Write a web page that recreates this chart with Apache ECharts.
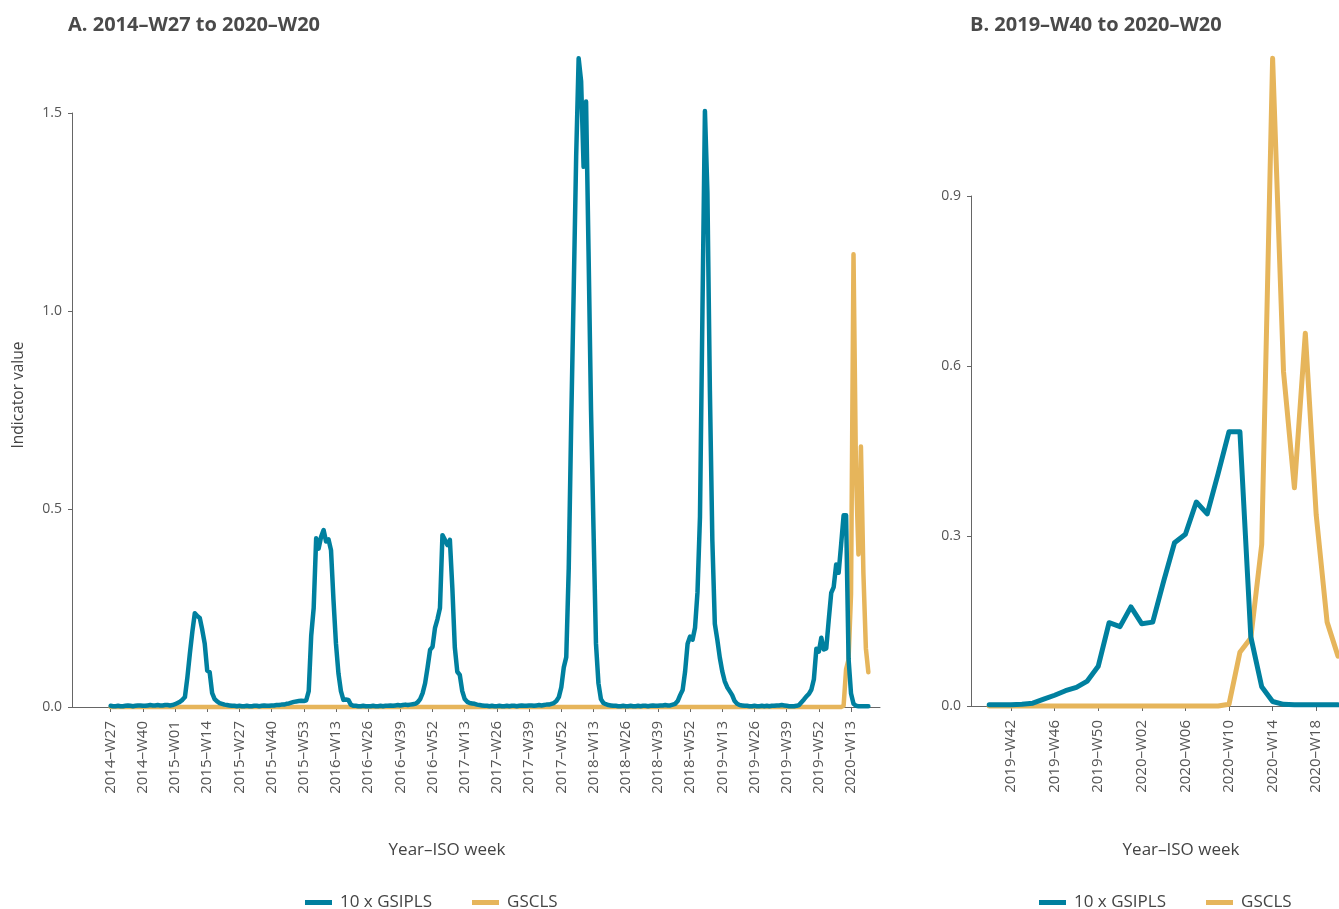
<!DOCTYPE html>
<html><head><meta charset="utf-8">
<script src="https://cdn.jsdelivr.net/npm/echarts@6/dist/echarts.min.js"></script>
<style>html,body{margin:0;padding:0;background:#fff}#c{width:1339px;height:909px}</style>
</head><body><div id="c"></div>
<script>
// ---- categories: ISO weeks from 2014-W27 ----
const START_YEAR = 2014, START_WEEK = 27;
const weeksPerYear = {2014:52, 2015:53, 2016:52, 2017:52, 2018:52, 2019:52, 2020:53};

// ---- series: 10 x GSIPLS (one value per week, 2014-W27 .. 2020-W20) ----
const gsipls10 = [
  // 2014-W27..W52
  0.003,0.002,0.002,0.003,0.002,0.002,0.003,0.004,0.003,0.002,0.003,0.004,0.004,0.003,0.003,0.004,0.005,0.004,0.004,0.005,0.004,0.004,0.005,0.005,0.004,0.005,
  // 2015-W01..W53
  0.007,0.010,0.013,0.018,0.025,0.075,0.135,0.190,0.237,0.230,0.225,0.195,0.160,0.092,0.088,0.035,0.020,0.014,0.010,0.008,0.006,0.005,0.004,0.003,0.003,0.002,0.003,
  0.002,0.002,0.003,0.002,0.002,0.003,0.003,0.002,0.003,0.004,0.003,0.003,0.004,0.004,0.005,0.005,0.006,0.006,0.008,0.009,0.011,0.013,0.014,0.015,0.016,0.015,
  // 2016-W01..W52
  0.017,0.040,0.180,0.250,0.426,0.400,0.430,0.447,0.418,0.423,0.396,0.270,0.160,0.085,0.040,0.018,0.019,0.018,0.006,0.003,0.003,0.002,0.002,0.003,0.002,0.002,
  0.002,0.003,0.002,0.002,0.003,0.002,0.003,0.003,0.004,0.003,0.004,0.005,0.004,0.005,0.006,0.005,0.006,0.007,0.008,0.012,0.020,0.035,0.060,0.100,0.144,0.152,
  // 2017-W01..W52
  0.200,0.222,0.250,0.434,0.422,0.409,0.422,0.300,0.150,0.089,0.081,0.040,0.020,0.013,0.010,0.009,0.008,0.006,0.005,0.004,0.003,0.003,0.002,0.003,0.002,0.002,
  0.003,0.002,0.002,0.003,0.002,0.003,0.003,0.002,0.003,0.004,0.003,0.003,0.004,0.004,0.003,0.004,0.005,0.004,0.005,0.006,0.006,0.008,0.010,0.015,0.025,0.050,
  // 2018-W01..W52
  0.100,0.126,0.350,0.720,1.050,1.390,1.638,1.580,1.364,1.529,1.150,0.750,0.450,0.160,0.060,0.020,0.010,0.007,0.005,0.004,0.003,0.003,0.002,0.002,0.003,0.002,
  0.002,0.003,0.002,0.002,0.003,0.002,0.003,0.003,0.002,0.003,0.004,0.003,0.003,0.004,0.004,0.005,0.004,0.004,0.006,0.008,0.015,0.030,0.043,0.090,0.160,0.178,
  // 2019-W01..W52
  0.170,0.200,0.290,0.480,1.000,1.505,1.300,0.800,0.420,0.210,0.170,0.125,0.090,0.065,0.050,0.040,0.030,0.015,0.008,0.005,0.004,0.003,0.003,0.002,0.002,0.003,
  0.002,0.002,0.003,0.002,0.003,0.002,0.003,0.003,0.004,0.004,0.005,0.004,0.003,0.002,0.002,0.002,0.003,0.005,0.012,0.019,0.027,0.033,0.044,0.070,0.147,0.140,
  // 2020-W01..W20
  0.175,0.145,0.148,0.220,0.288,0.303,0.360,0.339,0.410,0.484,0.484,0.122,0.034,0.008,0.003,0.002,0.002,0.002,0.002,0.002
];

// ---- series: GSCLS (one value per week, 2014-W27 .. 2020-W20) ----
const gscls = [
  // 2014-W27..W52
  0,0,0,0,0,0,0,0,0,0,0,0,0,0,0,0,0,0,0,0,0,0,0,0,0,0,
  // 2015-W01..W53
  0,0,0,0,0,0,0,0,0,0,0,0,0,0,0,0,0,0,0,0,0,0,0,0,0,0,0,
  0,0,0,0,0,0,0,0,0,0,0,0,0,0,0,0,0,0,0,0,0,0,0,0,0,0,
  // 2016-W01..W52
  0,0,0,0,0,0,0,0,0,0,0,0,0,0,0,0,0,0,0,0,0,0,0,0,0,0,
  0,0,0,0,0,0,0,0,0,0,0,0,0,0,0,0,0,0,0,0,0,0,0,0,0,0,
  // 2017-W01..W52
  0,0,0,0,0,0,0,0,0,0,0,0,0,0,0,0,0,0,0,0,0,0,0,0,0,0,
  0,0,0,0,0,0,0,0,0,0,0,0,0,0,0,0,0,0,0,0,0,0,0,0,0,0,
  // 2018-W01..W52
  0,0,0,0,0,0,0,0,0,0,0,0,0,0,0,0,0,0,0,0,0,0,0,0,0,0,
  0,0,0,0,0,0,0,0,0,0,0,0,0,0,0,0,0,0,0,0,0,0,0,0,0,0,
  // 2019-W01..W52
  0,0,0,0,0,0,0,0,0,0,0,0,0,0,0,0,0,0,0,0,0,0,0,0,0,0,
  0,0,0,0,0,0,0,0,0,0,0,0,0,0,0,0,0,0,0,0,0,0,0,0,0,0,
  // 2020-W01..W20
  0,0,0,0,0,0,0,0,0,0.003,0.095,0.120,0.285,1.143,0.590,0.385,0.658,0.337,0.148,0.088
];

// ---- tick labels ----
const tickLabelsA = ['2014–W27','2014–W40','2015–W01','2015–W14','2015–W27','2015–W40','2015–W53',
  '2016–W13','2016–W26','2016–W39','2016–W52','2017–W13','2017–W26','2017–W39','2017–W52',
  '2018–W13','2018–W26','2018–W39','2018–W52','2019–W13','2019–W26','2019–W39','2019–W52','2020–W13'];
const tickLabelsB = ['2019–W42','2019–W46','2019–W50','2020–W02','2020–W06','2020–W10','2020–W14','2020–W18'];
const yTicksA = [0, 0.5, 1.0, 1.5];
const yTicksB = [0, 0.3, 0.6, 0.9];
const panelBStart = '2019–W40';

const seriesNames = ['10 x GSIPLS', 'GSCLS'];
const titleA = 'A. 2014–W27 to 2020–W20';
const titleB = 'B. 2019–W40 to 2020–W20';
const xTitle = 'Year–ISO week';
const yTitle = 'Indicator value';

// ---- build ----
function buildWeeks(n) {
  const out = []; let y = START_YEAR, w = START_WEEK;
  for (let k = 0; k < n; k++) {
    out.push(y + '–W' + String(w).padStart(2, '0'));
    w++; if (w > weeksPerYear[y]) { y++; w = 1; }
  }
  return out;
}
const weeksA = buildWeeks(gsipls10.length);
const bStart = weeksA.indexOf(panelBStart);
const weeksB = weeksA.slice(bStart);
const tickIdxA = tickLabelsA.map(l => weeksA.indexOf(l));
const tickIdxB = tickLabelsB.map(l => weeksB.indexOf(l));

const BLUE = '#00809f', YELLOW = '#e6b55b';
const TXT = '#555555';
const FONT = '"Open Sans", "DejaVu Sans", sans-serif';

function xAxisCfg(grid, min, max, ticks, cats) {
  return {
    type: 'value', gridIndex: grid, min: min, max: max,
    axisLine: { show: true, onZero: false, lineStyle: { color: '#666', width: 1 } },
    axisTick: { show: true, customValues: ticks, length: 5, lineStyle: { color: '#666' } },
    axisLabel: { customValues: ticks, rotate: 90, margin: 14, fontSize: 15, color: TXT, fontFamily: FONT,
      formatter: v => cats[Math.round(v)] || '' },
    splitLine: { show: false }
  };
}
function yAxisCfg(grid, ticks) {
  return {
    type: 'value', gridIndex: grid, min: ticks[0], max: ticks[ticks.length - 1],
    interval: ticks[1] - ticks[0],
    axisLine: { show: true, onZero: false, lineStyle: { color: '#666', width: 1 } },
    axisTick: { show: true, length: 4, lineStyle: { color: '#666' } },
    axisLabel: { margin: 10, fontSize: 14, color: TXT, fontFamily: FONT, formatter: v => v.toFixed(1) },
    splitLine: { show: false }
  };
}
function lineSeries(name, data, xi, color, z, width) {
  return {
    name: name, type: 'line', xAxisIndex: xi, yAxisIndex: xi,
    data: data.map((v, i) => [i, v]),
    showSymbol: false, symbol: 'none', clip: false, z: z,
    lineStyle: { color: color, width: width, cap: 'round', join: 'round' },
    itemStyle: { color: color }, animation: false
  };
}
function legendCfg(left) {
  return {
    left: left, top: 889, icon: 'rect', itemWidth: 27, itemHeight: 5, itemGap: 40,
    data: seriesNames,
    textStyle: { fontSize: 17, color: '#444', fontFamily: FONT, padding: [0, 0, 0, 3] }
  };
}

const chart = echarts.init(document.getElementById('c'), null, { renderer: 'canvas' });
chart.setOption({
  backgroundColor: '#fff',
  animation: false,
  grid: [
    { left: 72, top: 113, width: 808, height: 594 },
    { left: 971, top: 196, width: 368, height: 510 }
  ],
  xAxis: [
    xAxisCfg(0, -15.6, 310.7, tickIdxA, weeksA),
    xAxisCfg(1, -1.67, 32.09, tickIdxB, weeksB)
  ],
  yAxis: [yAxisCfg(0, yTicksA), yAxisCfg(1, yTicksB)],
  legend: [legendCfg(300), legendCfg(1034)],
  series: [
    lineSeries(seriesNames[0], gsipls10, 0, BLUE, 3, 4.5),
    lineSeries(seriesNames[1], gscls, 0, YELLOW, 2, 4.5),
    lineSeries(seriesNames[0], gsipls10.slice(bStart), 1, BLUE, 3, 5),
    lineSeries(seriesNames[1], gscls.slice(bStart), 1, YELLOW, 2, 5)
  ],
  graphic: [
    { type: 'text', x: 68, y: 25, style: { text: titleA, font: 'bold 20px ' + FONT, fill: '#4a4a4a', textVerticalAlign: 'middle' } },
    { type: 'text', x: 970, y: 25, style: { text: titleB, font: 'bold 20px ' + FONT, fill: '#4a4a4a', textVerticalAlign: 'middle' } },
    { type: 'text', x: 447, y: 850, style: { text: xTitle, font: '17px ' + FONT, fill: '#444', textAlign: 'center', textVerticalAlign: 'middle' } },
    { type: 'text', x: 1181, y: 850, style: { text: xTitle, font: '17px ' + FONT, fill: '#444', textAlign: 'center', textVerticalAlign: 'middle' } },
    { type: 'text', x: 19, y: 395, rotation: Math.PI / 2, style: { text: yTitle, font: '15.5px ' + FONT, fill: '#444', textAlign: 'center', textVerticalAlign: 'middle' } }
  ]
});
</script>
</body></html>
